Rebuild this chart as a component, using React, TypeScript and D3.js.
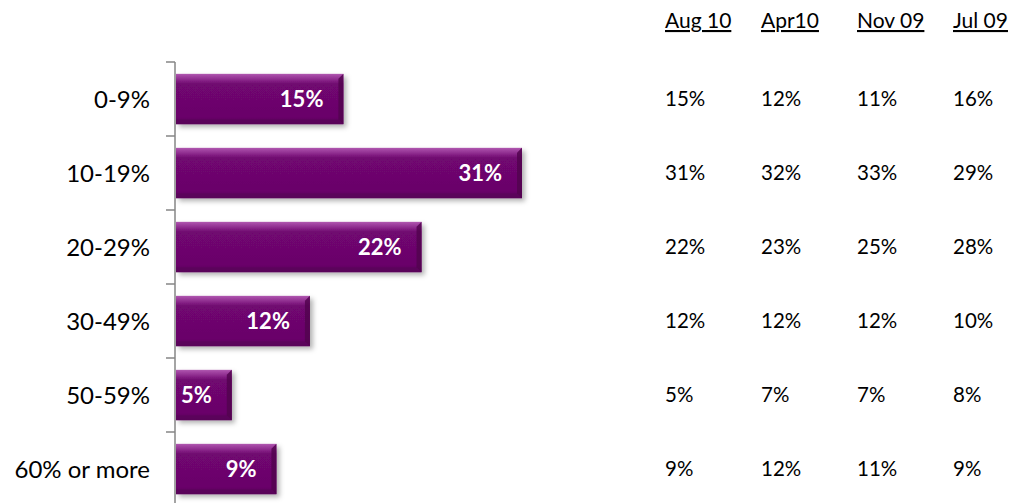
import React from "react";
import * as d3 from "d3";

const categories = ["0-9%", "10-19%", "20-29%", "30-49%", "50-59%", "60% or more"];
const barValues = [15, 31, 22, 12, 5, 9];
const periods = ["Aug 10", "Apr10", "Nov 09", "Jul 09"];
const aug10 = [15, 31, 22, 12, 5, 9];
const apr10 = [12, 32, 23, 12, 7, 12];
const nov09 = [11, 33, 25, 12, 7, 11];
const jul09 = [16, 29, 28, 10, 8, 9];
const tableSeries = [aug10, apr10, nov09, jul09];

const W = 1011;
const H = 503;
const FONT = "Lato, 'Open Sans', sans-serif";

export default function App() {
  const x = d3.scaleLinear().domain([0, 31]).range([176, 522]);
  const y = d3.scaleBand<string>().domain(categories).range([62, 506]).paddingInner(0.32).paddingOuter(0.16);
  const col = d3.scaleBand<string>().domain(periods).range([665, 1049]);
  const step = y.step();
  const bandStart = (c: string) => (y(c) as number) - y.paddingOuter() * step;
  const tickYs = categories.map((c, i) => 62 + i * step).concat([62 + categories.length * step]);

  return (
    <svg width={W} height={H} style={{ position: "absolute", left: 0, top: 0, background: "#fff" }}>
      <defs>
        <linearGradient id="barGrad" x1="0" y1="0" x2="0" y2="1">
          <stop offset="0" stopColor="#b057b0" />
          <stop offset="0.12" stopColor="#8a268a" />
          <stop offset="0.2" stopColor="#700770" />
          <stop offset="0.85" stopColor="#6a056a" />
          <stop offset="1" stopColor="#580458" />
        </linearGradient>
        <filter id="shadow" x="-10%" y="-20%" width="130%" height="160%">
          <feDropShadow dx="3" dy="3" stdDeviation="2.5" floodColor="#000" floodOpacity="0.3" />
        </filter>
      </defs>
      {/* axis */}
      <line x1={175} x2={175} y1={62} y2={H} stroke="#868686" strokeWidth={1.5} />
      {tickYs.map((ty, i) => (
        <line key={i} x1={166} x2={175} y1={ty} y2={ty} stroke="#868686" strokeWidth={1.5} />
      ))}
      {/* bars */}
      {categories.map((c, i) => {
        const x0 = x(0);
        const x1 = x(barValues[i]);
        const y0 = y(c) as number;
        const h = y.bandwidth();
        const b = 5;
        return (
          <g key={c}>
            <rect x={x0} y={y0} width={x1 - x0} height={h} fill="url(#barGrad)" filter="url(#shadow)" />
            <polygon
              points={`${x1 - b},${y0 + b} ${x1},${y0} ${x1},${y0 + h} ${x1 - b},${y0 + h - b}`}
              fill="#52034f"
              opacity={0.85}
            />
            <polygon
              points={`${x0},${y0 + h} ${x1},${y0 + h} ${x1 - b},${y0 + h - b} ${x0},${y0 + h - b}`}
              fill="#5a045a"
              opacity={0.7}
            />
            <text
              x={x1 - 20}
              y={y0 + h / 2}
              dy="0.36em"
              textAnchor="end"
              fill="#fff"
              fontFamily={FONT}
              fontWeight={700}
              fontSize={22}
            >
              {barValues[i]}%
            </text>
            <text
              x={150}
              y={bandStart(c) + step / 2}
              dy="0.36em"
              textAnchor="end"
              fill="#000"
              fontFamily={FONT}
              fontSize={24}
            >
              {c}
            </text>
          </g>
        );
      })}
      {/* table */}
      {periods.map((p, j) => (
        <g key={p}>
          <text
            x={col(p) as number}
            y={28}
            fill="#000"
            fontFamily={FONT}
            fontSize={21}
            textDecoration="underline"
          >
            {p}
          </text>
          {categories.map((c, i) => (
            <text
              key={c}
              x={col(p) as number}
              y={bandStart(c) + step / 2}
              dy="0.36em"
              fill="#000"
              fontFamily={FONT}
              fontSize={20.5}
            >
              {tableSeries[j][i]}%
            </text>
          ))}
        </g>
      ))}
    </svg>
  );
}
